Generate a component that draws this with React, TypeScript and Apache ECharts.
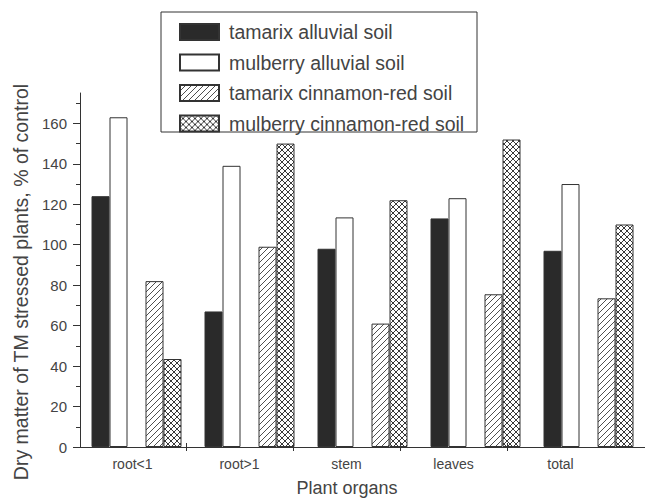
import React, { useEffect, useRef } from "react";
import * as echarts from "echarts";

const categories = ["root<1", "root>1", "stem", "leaves", "total"];
const seriesNames = [
  "tamarix alluvial soil",
  "mulberry alluvial soil",
  "tamarix cinnamon-red soil",
  "mulberry cinnamon-red soil",
];
const tamarixAlluvial = [124, 67, 98, 113, 97];
const mulberryAlluvial = [163, 139, 113.5, 123, 130];
const tamarixCinnamon = [82, 99, 61, 75.5, 73.5];
const mulberryCinnamon = [43.5, 150, 122, 152, 110];
const yTicks = [0, 20, 40, 60, 80, 100, 120, 140, 160];
const yMinorTicks = [10, 30, 50, 70, 90, 110, 130, 150, 170];
const xBoundaryTicks = [1, 2, 3, 4];
const yTitle = "Dry matter of TM stressed plants, % of control";
const xTitle = "Plant organs";

const FONT = "'Liberation Sans', Arial, sans-serif";
const TEXT = "#444";
const LINE = "#333";

function svgUrl(body: string, size: number) {
  const svg = `<svg xmlns='http://www.w3.org/2000/svg' width='${size}' height='${size}'><rect width='${size}' height='${size}' fill='white'/>${body}</svg>`;
  return "data:image/svg+xml;charset=utf-8," + encodeURIComponent(svg);
}

export default function App() {
  const ref = useRef<HTMLDivElement>(null);
  useEffect(() => {
    if (!ref.current) return;
    const chart = echarts.init(ref.current, undefined, { renderer: "svg" });
    const s = 6;
    const hatch = {
      image: svgUrl(
        `<path d='M0,${s} L${s},0 M-1,1 L1,-1 M${s - 1},${s + 1} L${s + 1},${s - 1}' stroke='#222' stroke-width='0.8'/>`,
        s
      ),
      repeat: "repeat",
      imageWidth: s,
      imageHeight: s,
    };
    const cross = {
      image: svgUrl(
        `<path d='M0,${s} L${s},0 M-1,1 L1,-1 M${s - 1},${s + 1} L${s + 1},${s - 1} M0,0 L${s},${s} M-1,${s - 1} L1,${s + 1} M${s - 1},-1 L${s + 1},1' stroke='#222' stroke-width='0.9'/>`,
        s
      ),
      repeat: "repeat",
      imageWidth: s,
      imageHeight: s,
    };
    const barBase = {
      type: "bar",
      xAxisIndex: 0,
      yAxisIndex: 0,
      barWidth: 18,
      barGap: "0%",
      z: 3,
    };
    chart.setOption({
      animation: false,
      backgroundColor: "#fff",
      textStyle: { fontFamily: FONT },
      grid: [
        { left: 80, top: 93, width: 573, height: 354, containLabel: false },
        { left: 79, top: 93, width: 535, height: 354, containLabel: false },
      ],
      xAxis: [
        {
          type: "category",
          gridIndex: 0,
          position: "bottom",
          data: categories,
          axisLine: { show: true, lineStyle: { color: LINE, width: 1 } },
          axisTick: { show: false },
          axisLabel: { show: false },
          splitLine: { show: false },
        },
        {
          type: "category",
          gridIndex: 1,
          position: "bottom",
          data: categories,
          axisLine: { show: false },
          axisTick: { show: false },
          axisLabel: {
            show: true,
            fontSize: 14,
            color: TEXT,
            margin: 10,
            fontFamily: FONT,
          },
          splitLine: { show: false },
        },
      ],
      yAxis: [
        {
          type: "value",
          gridIndex: 0,
          position: "left",
          min: 0,
          max: 175,
          interval: 20,
          axisLine: { show: true, lineStyle: { color: LINE, width: 1 } },
          axisTick: {
            show: true,
            length: 7,
            lineStyle: { color: LINE, width: 1 },
            customValues: yTicks,
          },
          axisLabel: {
            fontSize: 15,
            color: TEXT,
            margin: 13,
            fontFamily: FONT,
            customValues: yTicks,
          },
          splitLine: { show: false },
        },
        {
          type: "value",
          gridIndex: 0,
          position: "left",
          min: 0,
          max: 175,
          interval: 20,
          axisLine: { show: false },
          axisTick: {
            show: true,
            length: 4,
            lineStyle: { color: LINE, width: 1 },
            customValues: yMinorTicks,
          },
          axisLabel: { show: false },
          splitLine: { show: false },
        },
        {
          type: "value",
          gridIndex: 1,
          position: "left",
          min: 0,
          max: 175,
          axisLine: { show: false },
          axisTick: { show: false },
          axisLabel: { show: false },
          splitLine: { show: false },
        },
      ],
      legend: {
        orient: "vertical",
        left: 179,
        top: 22,
        padding: 0,
        itemWidth: 39,
        itemHeight: 16,
        itemGap: 10.5,
        icon: "rect",
        z: 10,
        data: seriesNames,
        textStyle: {
          fontSize: 19.5,
          color: TEXT,
          fontFamily: FONT,
          padding: [0, 0, 0, 5],
        },
      },
      graphic: [
        {
          id: "legendBox",
          type: "rect",
          z: 5,
          shape: { x: 161, y: 12, width: 316, height: 120 },
          style: { fill: "#fff", stroke: LINE, lineWidth: 1 },
        },
        {
          id: "yTitle",
          type: "text",
          x: 21,
          y: 282,
          rotation: Math.PI / 2,
          style: {
            text: yTitle,
            fontSize: 19.5,
            fontFamily: FONT,
            fill: TEXT,
            align: "center",
            verticalAlign: "middle",
          },
        },
        {
          id: "xTitle",
          type: "text",
          x: 347,
          y: 488,
          style: {
            text: xTitle,
            fontSize: 18,
            fontFamily: FONT,
            fill: TEXT,
            align: "center",
            verticalAlign: "middle",
          },
        },
      ],
      series: [
        {
          ...barBase,
          name: seriesNames[0],
          data: tamarixAlluvial,
          itemStyle: { color: "#2a2a2a", borderColor: LINE, borderWidth: 1 },
        },
        {
          ...barBase,
          name: seriesNames[1],
          data: mulberryAlluvial,
          itemStyle: { color: "#ffffff", borderColor: LINE, borderWidth: 1 },
        },
        {
          ...barBase,
          name: "gap",
          data: categories.map(() => null),
          itemStyle: { color: "transparent" },
        },
        {
          ...barBase,
          name: seriesNames[2],
          data: tamarixCinnamon,
          itemStyle: { color: hatch, borderColor: LINE, borderWidth: 1 },
        },
        {
          ...barBase,
          name: seriesNames[3],
          data: mulberryCinnamon,
          itemStyle: { color: cross, borderColor: LINE, borderWidth: 1 },
        },
        {
          type: "custom",
          name: "category ticks",
          xAxisIndex: 1,
          yAxisIndex: 2,
          silent: true,
          clip: false,
          z: 6,
          encode: { x: 0, y: 1 },
          data: xBoundaryTicks.map((b) => [b, 0]),
          renderItem: (params: any, api: any) => {
            const p = api.coord([api.value(0), api.value(1)]);
            const w = api.size([1, 0])[0];
            const x = Math.round(p[0] - w / 2) + 0.5;
            return {
              type: "line",
              shape: { x1: x, y1: p[1] - 4, x2: x, y2: p[1] + 4 },
              style: { stroke: LINE, lineWidth: 1 },
            };
          },
        },
      ],
    });
    return () => chart.dispose();
  }, []);
  return (
    <div
      ref={ref}
      style={{ position: "fixed", left: 0, top: 0, width: 645, height: 500 }}
    />
  );
}
